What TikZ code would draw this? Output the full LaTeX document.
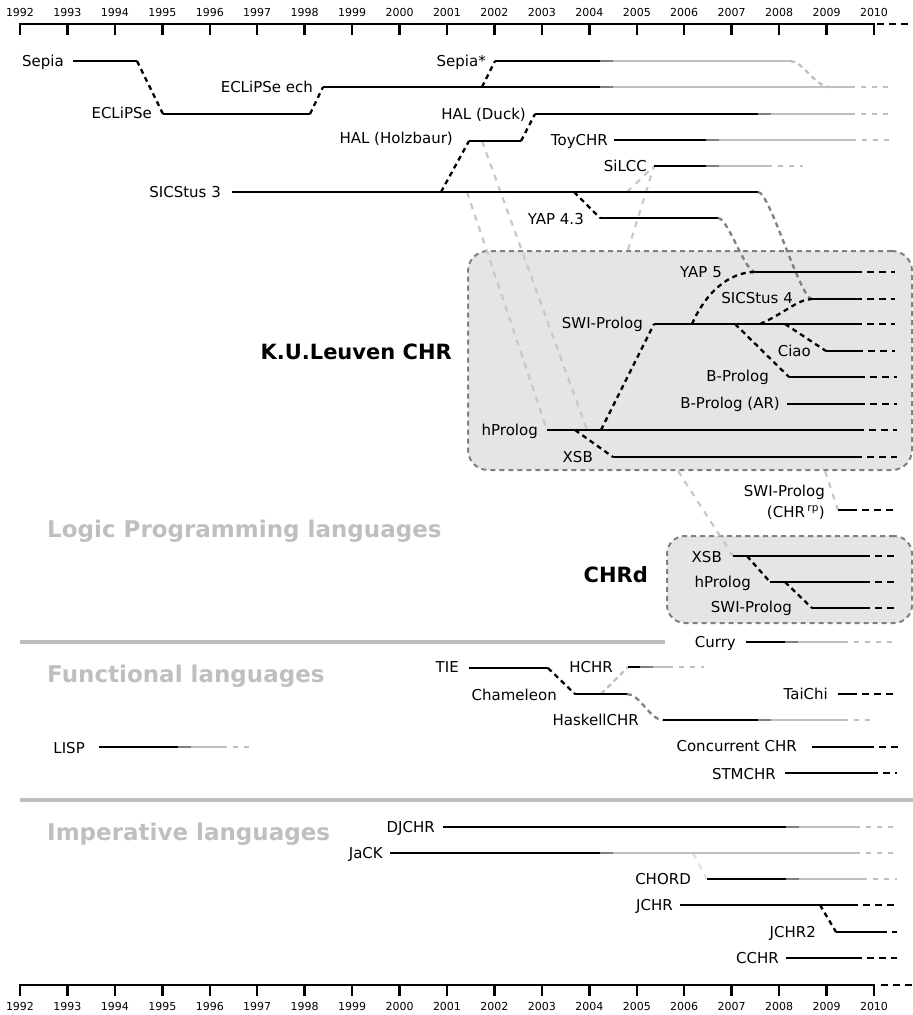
\documentclass[tikz,border=0pt]{standalone}
\usepackage{fontspec}
\setmainfont{DejaVu Sans}
\usetikzlibrary{positioning}

\definecolor{fadegrey}{HTML}{BFBFBF}
\definecolor{darkgrey}{HTML}{808080}
\definecolor{ghostgrey}{HTML}{C8C8C8}
\definecolor{palegrey}{HTML}{E0E0E0}
\definecolor{boxgrey}{HTML}{E5E5E5}

\pgfdeclarelayer{back}
\pgfdeclarelayer{mid}
\pgfsetlayers{back,mid,main}

\tikzset{
  lbl/.style={font=\fontsize{15}{18}\selectfont, inner sep=0pt, anchor=east,
    text height=13.5pt, text depth=3pt},
  yr/.style={font=\fontsize{11}{13}\selectfont, inner sep=0pt},
  title/.style={font=\fontsize{21}{24}\selectfont\bfseries, inner sep=0pt, anchor=base east},
  family/.style={font=\fontsize{23}{26}\selectfont\bfseries, text=fadegrey, inner sep=0pt, anchor=base west},
  axis/.style={line width=2.4pt},
  bar/.style={line width=2.3pt},
  tail/.style={line width=2.3pt, dash pattern=on 7pt off 5pt},
  fadetail/.style={line width=2.3pt, fadegrey, dash pattern=on 5pt off 6pt},
  fork/.style={line width=2.3pt, dash pattern=on 5pt off 4pt},
  greyfork/.style={fork, darkgrey},
  lightfork/.style={fork, fadegrey},
  ghost/.style={line width=2.2pt, ghostgrey, dash pattern=on 6pt off 6pt},
  divider/.style={line width=4pt, fadegrey},
  chrbox/.style={draw=darkgrey, fill=boxgrey, line width=2pt,
    dash pattern=on 5pt off 4pt, rounded corners=20pt},
}

% bar that stops: name, y, start, end
\newcommand\stopbar[4]{%
  \coordinate (#1) at (#3,#2);
  \coordinate (#1-e) at (#4,#2);
  \draw[bar] (#1) -- (#1-e);}
% bar still alive: name, y, start, solid end, dashed end
\newcommand\livebar[5]{%
  \coordinate (#1) at (#3,#2);
  \coordinate (#1-e) at (#4,#2);
  \draw[bar] (#1) -- (#1-e);
  \draw[tail] (#1-e) -- (#5,#2);}
% bar fading out: name, y, start, black end, grey end, dashed end
\newcommand\fadebar[6]{%
  \coordinate (#1) at (#3,#2);
  \coordinate (#1-e) at (#5,#2);
  \draw[bar] (#1) -- (#4,#2);
  \draw[bar, darkgrey] (#4,#2) -- ++(13,0);
  \draw[bar, fadegrey] (#4,#2) ++(13,0) -- (#1-e);
  \draw[fadetail] (#1-e) -- (#6,#2);}

\begin{document}
\begin{tikzpicture}[x=1pt, y=-1pt]
\useasboundingbox (0,0) rectangle (913,1015);

% time axes
\foreach \ya/\yl in {24/12.5, 985/1006} {
  \draw[axis] (18.8,\ya) -- (875.2,\ya);
  \foreach \i in {0,...,18} {
    \pgfmathtruncatemacro\yr{1992+\i}
    \draw[axis] (20+\i*47.444,\ya-1.2) -- ++(0,12.2);
    \node[yr] (yr\yr-\ya) at (20+\i*47.444,\yl) {\yr};
  }
}
\draw[tail, line width=2.4pt] (877,24) -- (913,24);
\draw[tail, line width=2.4pt] (881,985) -- (913,985);

% language families
\draw[divider] (20,642) -- (665,642);
\draw[divider] (20,800) -- (913,800);
\node[family] (logicT) at (47,537) {Logic Programming languages};
\node[family] (funcT) at (47,682) {Functional languages};
\node[family] (impT) at (47,840) {Imperative languages};

% CHR systems boxes
\begin{pgfonlayer}{back}
  \node[chrbox, minimum width=444pt, minimum height=219pt] (kul) at (690,360.5) {};
  \node[chrbox, minimum width=245pt, minimum height=87pt, rounded corners=18pt] (chrd) at (789.5,579.5) {};
\end{pgfonlayer}
\node[title] (kulT) at (452,359) {K.U.Leuven CHR};
\node[title] (chrdT) at (648,582) {CHRd};

% bars
\stopbar{sepia}{61}{73}{137}
\stopbar{eclipse}{114}{163}{310}
\fadebar{ech}{87}{323}{600}{850}{892}
\fadebar{sepiastar}{61}{495}{600}{790}{790}
\stopbar{halh}{141}{469}{521}
\fadebar{halduck}{114}{535}{758}{850}{890}
\fadebar{toychr}{140}{614}{706}{851}{891}
\fadebar{silcc}{166}{654}{706}{767}{803}
\stopbar{sicstus3}{192}{232}{758}
\stopbar{yap43}{218}{600}{718}
\livebar{yap5}{272}{755}{855}{895}
\livebar{sicstus4}{299}{812}{855}{895}
\livebar{swi}{324}{654}{855}{895}
\livebar{ciao}{351}{826}{856}{895}
\livebar{bprolog}{377}{789}{858}{897}
\livebar{bprologar}{404}{787}{858}{897}
\livebar{hprolog}{430}{547}{857}{897}
\livebar{xsb}{457}{613}{855}{897}
\livebar{swirp}{510}{838}{850}{897}
\livebar{dxsb}{556}{733}{863}{897}
\livebar{dhprolog}{582}{770}{863}{897}
\livebar{dswi}{608}{812}{863}{897}
\fadebar{curry}{642}{746}{785}{843}{897}
\stopbar{tie}{668}{469}{548}
\fadebar{hchr}{667}{628}{640}{668}{704}
\stopbar{chameleon}{694}{575}{627}
\livebar{taichi}{694}{838}{850}{897}
\fadebar{haskellchr}{720}{663}{758}{843}{875}
\fadebar{lisp}{747}{99}{178}{222}{255}
\livebar{concurrent}{747}{812}{867}{898}
\livebar{stmchr}{773}{785}{871}{897}
\fadebar{djchr}{827}{443}{786}{855}{897}
\fadebar{jack}{853}{390}{600}{855}{897}
\fadebar{chord}{879}{707}{786}{862}{897}
\livebar{jchr}{905}{680}{851}{897}
\livebar{jchrtwo}{932}{836}{880}{897}
\livebar{cchr}{958}{786}{855}{897}

% influences and forks
\begin{pgfonlayer}{mid}
  \draw[ghost] (sicstus3 -| 467,0) -- (hprolog);
  \draw[ghost] (halh -| 482,0) -- (hprolog -| 587,0);
  \draw[ghost] (sicstus3 -| 627,0) -- (silcc);
  \draw[ghost] (kul.north -| 628,0) -- (silcc);
  \draw[ghost] (kul.south -| 678,0) -- (dxsb);
  \draw[ghost] (kul.south -| 825,0) -- (swirp);
  \draw[ghost, palegrey] (jack -| 693,0) -- (chord);
  \draw[fork] (sepia-e) -- (eclipse);
  \draw[fork] (eclipse-e) -- (ech);
  \draw[fork] (ech -| 482,0) -- (sepiastar);
  \draw[lightfork] (sepiastar-e) .. controls (803,61) and (815,87) .. (ech -| 830,0);
  \draw[fork] (sicstus3 -| 441,0) -- (halh);
  \draw[fork] (halh-e) -- (halduck);
  \draw[fork] (sicstus3 -| 574,0) -- (yap43);
  \draw[greyfork] (sicstus3-e) .. controls (770,192) and (800,299) .. (sicstus4);
  \draw[greyfork] (yap43-e) .. controls (728,218) and (745,272) .. (yap5);
  \draw[fork] (hprolog -| 601,0) -- (swi);
  \draw[fork] (hprolog -| 575,0) -- (xsb);
  \draw[fork] (swi -| 692,0) .. controls (705,294) and (728,272) .. (yap5);
  \draw[fork] (swi -| 760,0) .. controls (785,313) and (798,299) .. (sicstus4);
  \draw[fork] (swi -| 735,0) -- (bprolog);
  \draw[fork] (swi -| 785,0) -- (ciao);
  \draw[fork] (dxsb -| 747,0) -- (dhprolog);
  \draw[fork] (dhprolog -| 785,0) -- (dswi);
  \draw[fork] (tie-e) -- (chameleon);
  \draw[lightfork] (chameleon -| 601,0) -- (hchr);
  \draw[greyfork] (chameleon-e) .. controls (640,694) and (650,720) .. (haskellchr);
  \draw[fork] (jchr -| 820,0) -- (jchrtwo);
\end{pgfonlayer}

% labels
\node[lbl] (sepiaL) at (64,61) {Sepia};
\node[lbl] (eclipseL) at (152,113) {ECLiPSe};
\node[lbl] (echL) at (313,87) {ECLiPSe ech};
\node[lbl] (sepiastarL) at (486,61) {Sepia*};
\node[lbl] (halduckL) at (526,114) {HAL (Duck)};
\node[lbl] (halhL) at (453,138) {HAL (Holzbaur)};
\node[lbl] (toychrL) at (608,140) {ToyCHR};
\node[lbl] (silccL) at (647,166) {SiLCC};
\node[lbl] (sicstus3L) at (221,192) {SICStus 3};
\node[lbl] (yap43L) at (584,219) {YAP 4.3};
\node[lbl] (yap5L) at (722,272) {YAP 5};
\node[lbl] (sicstus4L) at (793,298) {SICStus 4};
\node[lbl] (swiL) at (643,323) {SWI-Prolog};
\node[lbl] (ciaoL) at (811,351) {Ciao};
\node[lbl] (bprologL) at (769,376) {B-Prolog};
\node[lbl] (bprologarL) at (780,403) {B-Prolog (AR)};
\node[lbl] (hprologL) at (538,430) {hProlog};
\node[lbl] (xsbL) at (593,457) {XSB};
\node[font=\fontsize{15}{21}\selectfont, align=right, inner sep=0pt, anchor=east]
  (swirpL) at (825,502) {SWI-Prolog\\(CHR\,\textsuperscript{rp})};
\node[lbl] (dxsbL) at (722,557) {XSB};
\node[lbl] (dhprologL) at (751,582) {hProlog};
\node[lbl] (dswiL) at (792,607) {SWI-Prolog};
\node[lbl] (curryL) at (736,642) {Curry};
\node[lbl] (tieL) at (459,667) {TIE};
\node[lbl] (hchrL) at (613,667) {HCHR};
\node[lbl] (chameleonL) at (557,695) {Chameleon};
\node[lbl] (taichiL) at (828,694) {TaiChi};
\node[lbl] (haskellchrL) at (639,720) {HaskellCHR};
\node[lbl] (lispL) at (85,748) {LISP};
\node[lbl] (concurrentL) at (797,746) {Concurrent CHR};
\node[lbl] (stmchrL) at (776,774) {STMCHR};
\node[lbl] (djchrL) at (435,827) {DJCHR};
\node[lbl] (jackL) at (383,853) {JaCK};
\node[lbl] (chordL) at (691,879) {CHORD};
\node[lbl] (jchrL) at (673,905) {JCHR};
\node[lbl] (jchrtwoL) at (816,932) {JCHR2};
\node[lbl] (cchrL) at (779,958) {CCHR};
\end{tikzpicture}
\end{document}
